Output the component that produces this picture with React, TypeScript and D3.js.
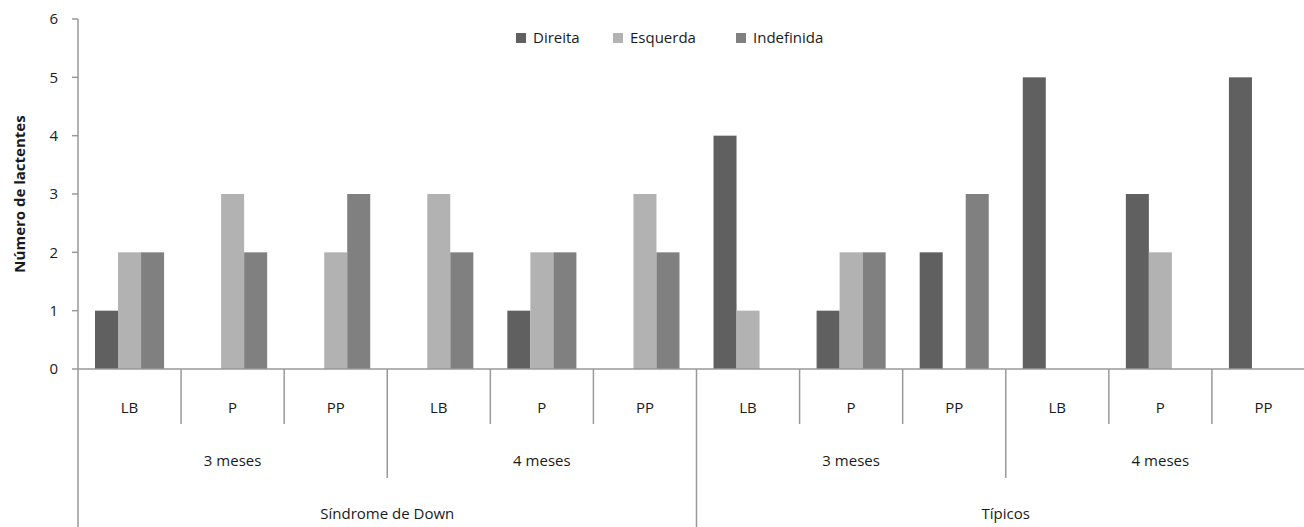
import { useMemo } from "react";
import * as d3 from "d3";

const groups = ["Síndrome de Down", "Típicos"];
const months = ["3 meses", "4 meses"];
const phases = ["LB", "P", "PP"];
const seriesNames = ["Direita", "Esquerda", "Indefinida"];
const seriesColors = ["#606060", "#b2b2b2", "#808080"];

// one entry per category, in the order group > month > phase
const direita = [1, 0, 0, 0, 1, 0, 4, 1, 2, 5, 3, 5];
const esquerda = [2, 3, 2, 3, 2, 3, 1, 2, 0, 0, 2, 0];
const indefinida = [2, 2, 3, 2, 2, 2, 0, 2, 3, 0, 0, 0];
const yTicks = [0, 1, 2, 3, 4, 5, 6];

const W = 1304;
const H = 527;
const marginLeft = 78;
const plotRight = 1315;
const yTop = 19;
const yBase = 369;
const axisColor = "#999";
const textColor = "#1a1a1a";
const font = "'Open Sans', sans-serif";

export default function App() {
  const cats = useMemo(() => {
    const out: { key: string; phase: string; month: string; group: string }[] = [];
    groups.forEach((g) =>
      months.forEach((m) =>
        phases.forEach((p) => out.push({ key: `${g}|${m}|${p}`, phase: p, month: m, group: g }))
      )
    );
    return out;
  }, []);

  const values = [direita, esquerda, indefinida];

  const x = d3.scaleBand<string>()
    .domain(cats.map((c) => c.key))
    .range([marginLeft, plotRight])
    .paddingInner(0)
    .paddingOuter(0);

  const step = x.bandwidth();
  const sub = d3.scaleBand<string>()
    .domain(seriesNames)
    .range([step * 0.165, step * 0.835])
    .padding(0);

  const y = d3.scaleLinear().domain([0, 6]).range([yBase, yTop]);

  const boundaries = d3.range(cats.length + 1).map((i) => marginLeft + i * step);

  const boundaryLen = (i: number) => {
    if (i % 6 === 0) return H;
    if (i % 3 === 0) return 478;
    return 424;
  };

  const monthBlocks = d3.range(groups.length * months.length).map((i) => ({
    label: months[i % months.length],
    cx: marginLeft + (i * 3 + 1.5) * step,
  }));
  const groupBlocks = groups.map((g, i) => ({
    label: g,
    cx: marginLeft + (i * 6 + 3) * step,
  }));

  const legendX = [516, 613, 736];

  return (
    <svg
      width={W}
      height={H}
      style={{ position: "absolute", left: 0, top: 0, background: "#fff" }}
      fontFamily={font}
    >
      {/* bars */}
      {values.map((vals, si) => (
        <g key={seriesNames[si]} fill={seriesColors[si]}>
          {vals.map((v, ci) =>
            v > 0 ? (
              <rect
                key={ci}
                x={(x(cats[ci].key) ?? 0) + (sub(seriesNames[si]) ?? 0)}
                y={y(v)}
                width={sub.bandwidth()}
                height={yBase - y(v)}
              />
            ) : null
          )}
        </g>
      ))}

      {/* y axis */}
      <line x1={marginLeft} x2={marginLeft} y1={yTop} y2={H} stroke={axisColor} strokeWidth={1.5} />
      {yTicks.map((t) => (
        <g key={t}>
          <line x1={marginLeft - 6} x2={marginLeft} y1={y(t)} y2={y(t)} stroke={axisColor} strokeWidth={1.5} />
          <text x={58} y={y(t)} dy="0.35em" textAnchor="end" fontSize={15} fill={textColor}>
            {t}
          </text>
        </g>
      ))}
      <text
        transform={`translate(20,${(yTop + yBase) / 2}) rotate(-90)`}
        textAnchor="middle"
        fontSize={15}
        fontWeight="bold"
        fill={textColor}
        dy="0.35em"
      >
        Número de lactentes
      </text>

      {/* x axis */}
      <line x1={marginLeft} x2={plotRight} y1={yBase} y2={yBase} stroke={axisColor} strokeWidth={1.5} />
      {boundaries.map((bx, i) =>
        i === 0 ? null : (
          <line key={i} x1={bx} x2={bx} y1={yBase} y2={boundaryLen(i)} stroke={axisColor} strokeWidth={1.5} />
        )
      )}
      {cats.map((c) => (
        <text
          key={c.key}
          x={(x(c.key) ?? 0) + step / 2}
          y={408}
          dy="0.35em"
          textAnchor="middle"
          fontSize={15}
          fill={textColor}
        >
          {c.phase}
        </text>
      ))}
      {monthBlocks.map((m, i) => (
        <text key={i} x={m.cx} y={461} dy="0.35em" textAnchor="middle" fontSize={15} fill={textColor}>
          {m.label}
        </text>
      ))}
      {groupBlocks.map((g) => (
        <text key={g.label} x={g.cx} y={514} dy="0.35em" textAnchor="middle" fontSize={15} fill={textColor}>
          {g.label}
        </text>
      ))}

      {/* legend */}
      {seriesNames.map((s, i) => (
        <g key={s} transform={`translate(${legendX[i]},38)`}>
          <rect x={0} y={-5} width={10} height={10} fill={seriesColors[i]} />
          <text x={17} dy="0.35em" fontSize={15} fill={textColor}>
            {s}
          </text>
        </g>
      ))}
    </svg>
  );
}
